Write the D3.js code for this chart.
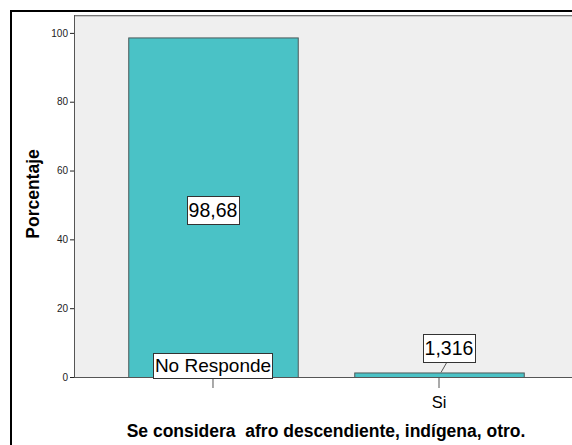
<!DOCTYPE html>
<html><head><meta charset="utf-8">
<script src="https://cdn.jsdelivr.net/npm/d3@7"></script>
<style>body{margin:0;background:#fff;}svg{display:block;font-family:"Liberation Sans",Arial,sans-serif;}</style>
</head><body>
<svg id="c" width="572" height="445"></svg>
<script>
const categories = ["No Responde", "Si"];
const values = [98.68, 1.316];
const valueLabels = ["98,68", "1,316"];
const yTicks = [0, 20, 40, 60, 80, 100];
const xTitle = "Se considera  afro descendiente, indígena, otro.";
const yTitle = "Porcentaje";

const svg = d3.select("#c");
const W = 572, H = 445;
const plot = {l: 74, t: 15, r: 572, b: 377};

// outer frame
svg.append("path").attr("d", `M11,${H+5} L11,11 L${W+5},11`).attr("fill","none").attr("stroke","#000").attr("stroke-width",2);

const y = d3.scaleLinear().domain([0, 105.2]).range([plot.b, plot.t]);
const x = d3.scaleBand().domain(categories).range([plot.l, 578]).paddingInner(0.25).paddingOuter(0.24);

// plot background
svg.append("rect").attr("x", plot.l).attr("y", plot.t).attr("width", plot.r - plot.l + 2).attr("height", plot.b - plot.t)
  .attr("fill", "#efefef");
svg.append("line").attr("x1", plot.l).attr("x2", W).attr("y1", plot.t + 0.5).attr("y2", plot.t + 0.5).attr("stroke", "#777");
svg.append("line").attr("x1", plot.l).attr("x2", W).attr("y1", plot.t + 1.5).attr("y2", plot.t + 1.5).attr("stroke", "#c8c8c8");
svg.append("line").attr("x1", plot.l + 0.5).attr("x2", plot.l + 0.5).attr("y1", plot.t).attr("y2", plot.b).attr("stroke", "#555");

// bars
svg.selectAll("rect.bar").data(categories).enter().append("rect").attr("class","bar")
  .attr("x", d => x(d) + 0.5).attr("width", x.bandwidth())
  .attr("y", (d,i) => y(values[i]) + 0.5).attr("height", (d,i) => y(0) - y(values[i]))
  .attr("fill", "#4ac2c6").attr("stroke", "#4d5a5a").attr("stroke-width", 1);

// baseline
svg.append("line").attr("x1", plot.l).attr("x2", W).attr("y1", y(0)+0.5).attr("y2", y(0)+0.5).attr("stroke", "#555");

// y axis
const yAxis = svg.append("g").attr("transform", `translate(${plot.l},0)`)
  .call(d3.axisLeft(y).tickValues(yTicks).tickSize(4).tickPadding(2));
yAxis.select(".domain").remove();
yAxis.selectAll("line").attr("stroke", "#222");
yAxis.selectAll("text").attr("font-size", 10).attr("fill", "#222").attr("font-family", '"Liberation Sans",Arial,sans-serif');

// x axis
const xAxis = svg.append("g").attr("transform", `translate(0,${plot.b})`)
  .call(d3.axisBottom(x).tickSize(11).tickPadding(8).tickFormat((d,i) => i === 0 ? "" : d));
xAxis.select(".domain").remove();
xAxis.selectAll("line").attr("stroke", "#555");
xAxis.selectAll("text").attr("font-size", 16.5).attr("fill", "#000").attr("font-family", '"Liberation Sans",Arial,sans-serif');

// label helper
function boxLabel(cx, cy, text, fs, h) {
  const g = svg.append("g");
  const t = g.append("text").attr("x", cx).attr("y", cy).attr("text-anchor","middle").attr("dominant-baseline","central")
    .attr("font-size", fs).attr("fill","#000").text(text);
  const bb = t.node().getBBox();
  g.insert("rect","text").attr("x", Math.round(bb.x) - 1.5).attr("y", Math.round(cy - h/2) + 0.5)
    .attr("width", Math.round(bb.width) + 3).attr("height", h)
    .attr("fill","#fff").attr("stroke","#333");
  return g;
}

// value labels
const c0 = x(categories[0]) + x.bandwidth()/2;
boxLabel(c0, (y(values[0]) + y(0))/2 + 2.5, valueLabels[0], 19.5, 28);
// category label inside first bar
boxLabel(c0, y(0) - 12, categories[0], 19, 25);

// second bar label with leader
const c1 = x(categories[1]) + x.bandwidth()/2;
svg.append("line").attr("x1", c1 + 8).attr("y1", y(0) - 15).attr("x2", c1 + 2).attr("y2", y(values[1]))
  .attr("stroke", "#555");
boxLabel(c1 + 10, y(0) - 29, valueLabels[1], 19.5, 28);

// titles
svg.append("text").attr("x", 326).attr("y", 437).attr("text-anchor","middle")
  .attr("font-size", 17.5).attr("font-weight","bold").style("white-space","pre").text(xTitle);
svg.append("text").attr("transform", `translate(39,194) rotate(-90)`).attr("text-anchor","middle")
  .attr("font-size", 17.5).attr("font-weight","bold").text(yTitle);
</script>
</body></html>
